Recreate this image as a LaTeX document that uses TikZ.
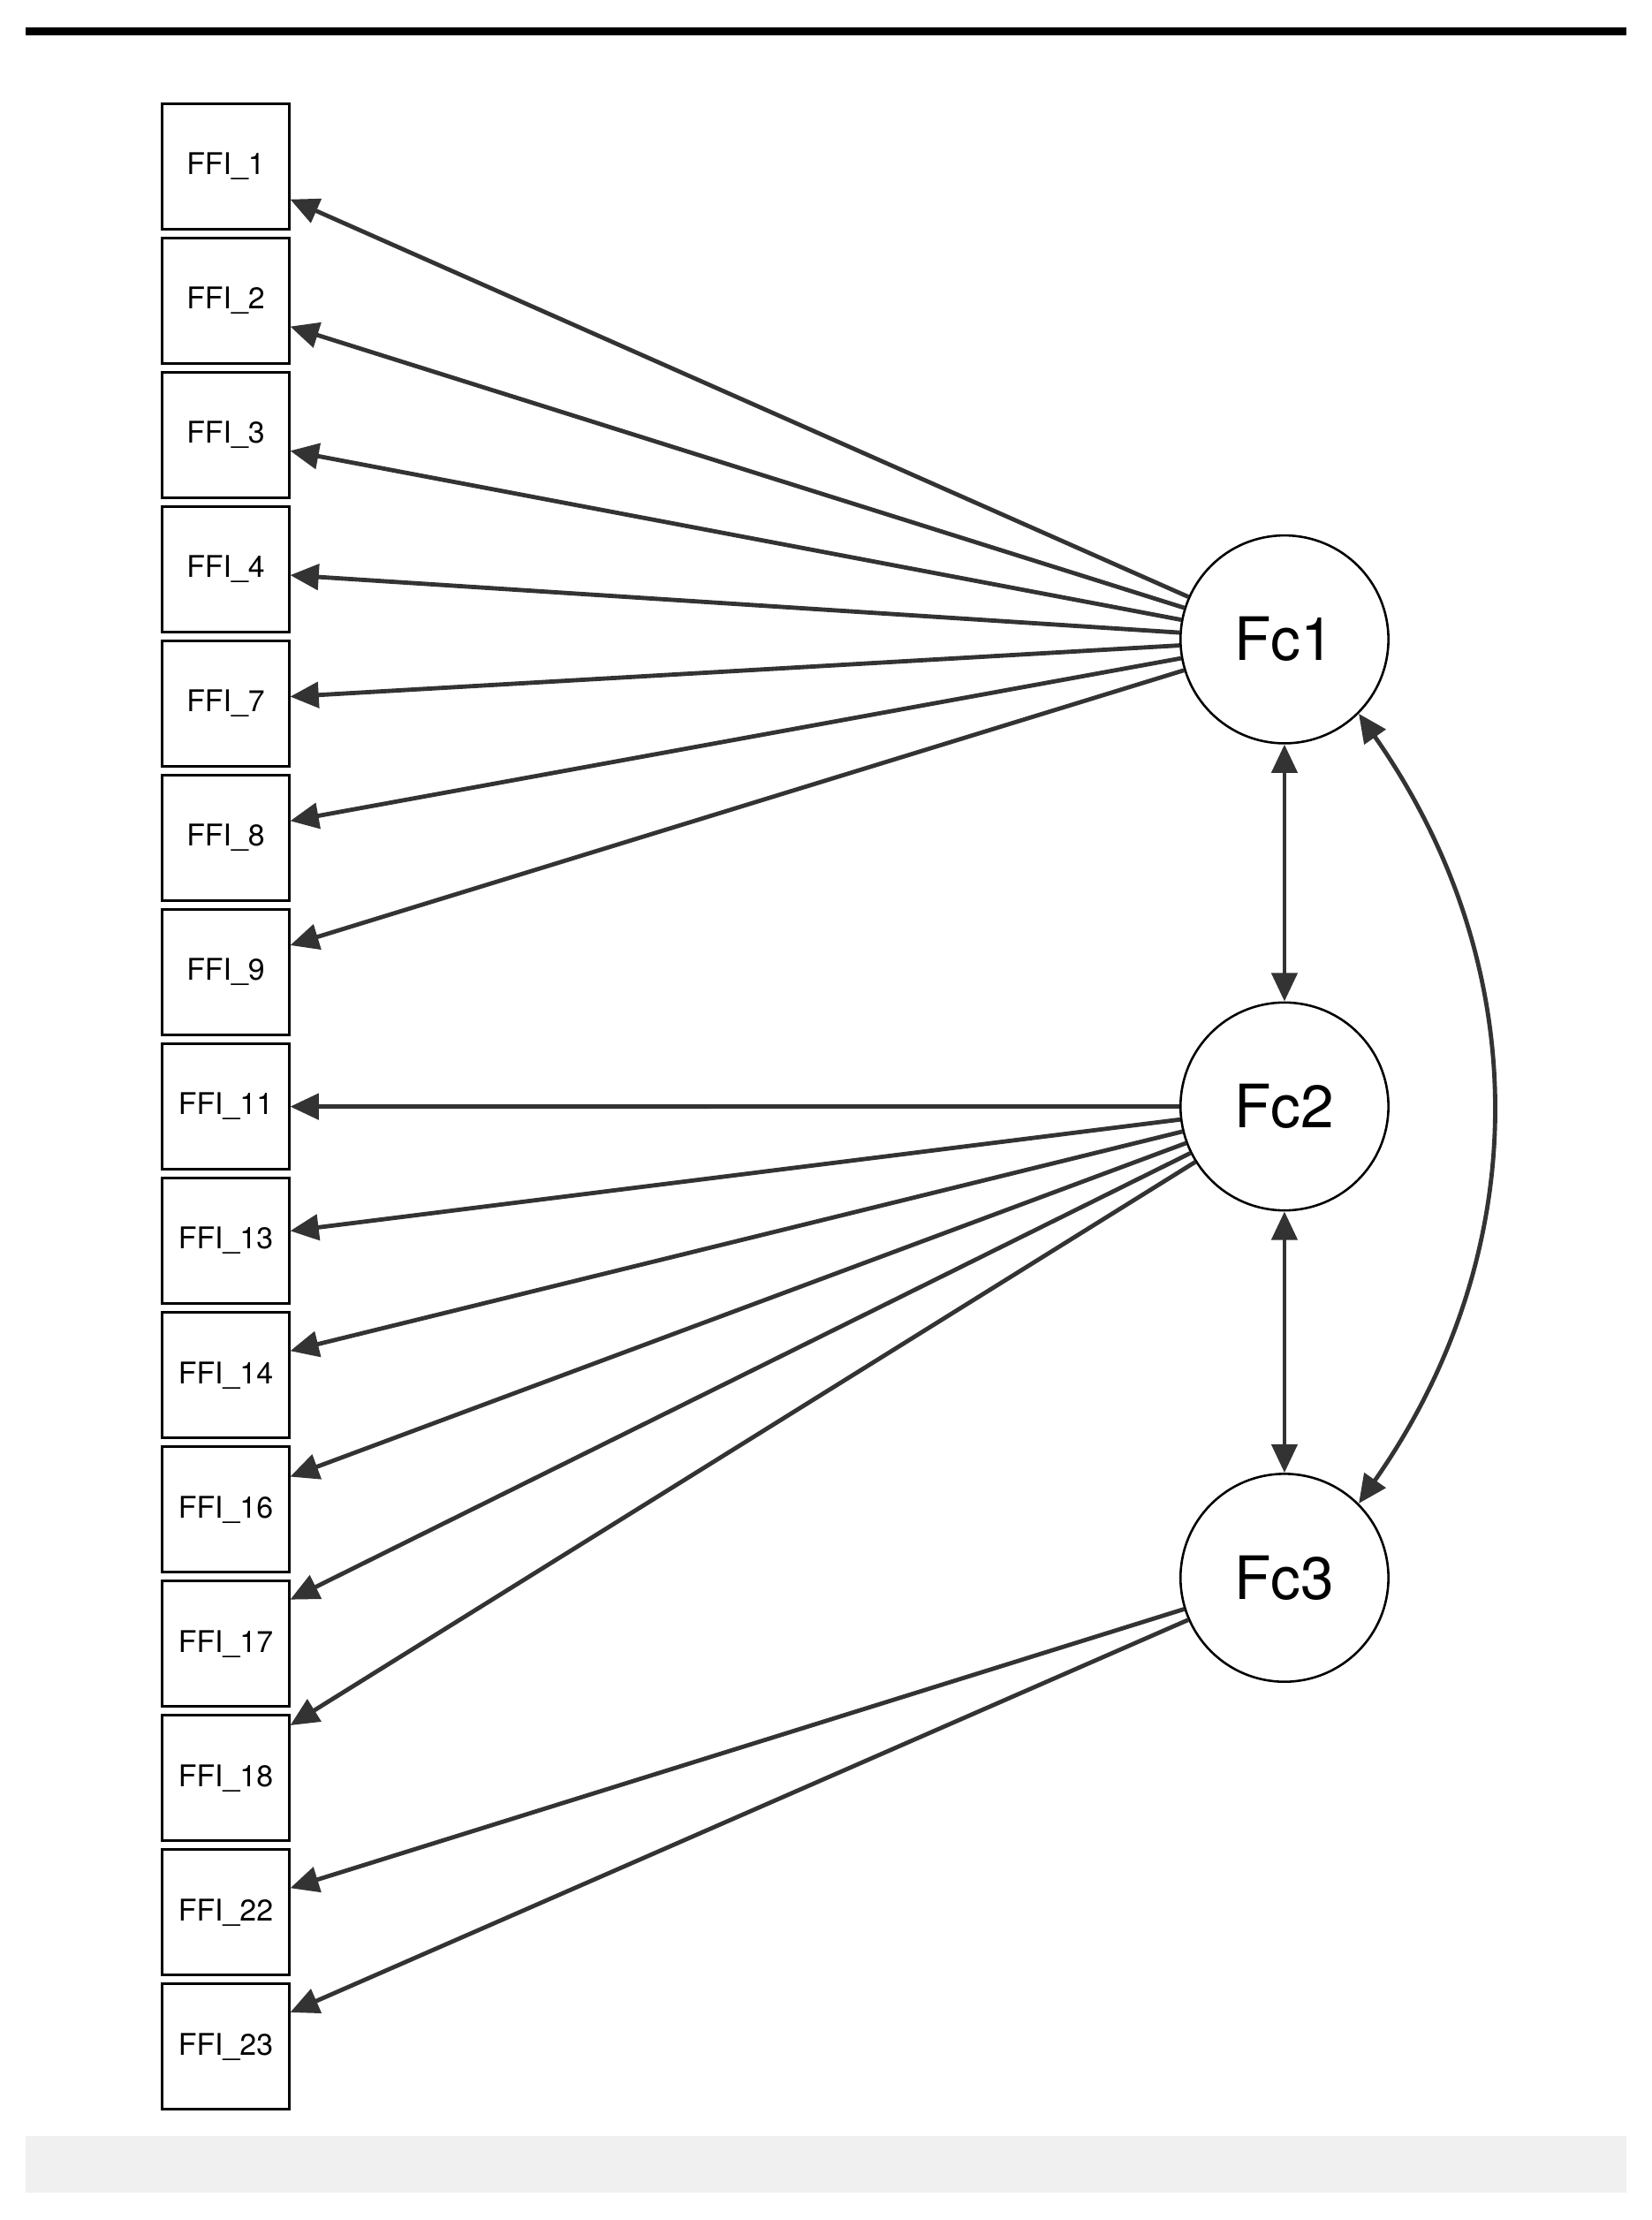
\documentclass[tikz,border=0pt]{standalone}
\usepackage{fontspec}
\setmainfont{TeX Gyre Heros}
\usetikzlibrary{arrows.meta}
\begin{document}
\begin{tikzpicture}[x=0.5pt,y=-0.5pt,
  box/.style={draw,line width=0.8pt,minimum width=44.5pt,minimum height=44pt,inner sep=0pt,font=\fontsize{10.5}{12}\selectfont},
  lat/.style={draw,circle,line width=0.8pt,minimum size=73pt,inner sep=0pt,font=\fontsize{21}{24}\selectfont},
  ar/.style={draw=black!80,line width=1.5pt,-{Triangle[length=10pt,width=9pt]}},
  dar/.style={draw=black!80,line width=1.5pt,{Triangle[length=10pt,width=9pt]}-{Triangle[length=10pt,width=9pt]}}]
\useasboundingbox (0,0) rectangle (1160,1559);
\fill[black!6] (18,1500) rectangle (1142,1540);
\draw[line width=3pt] (18,22) -- (1142,22);
\foreach \n [count=\i from 0] in {1,2,3,4,7,8,9,11,13,14,16,17,18,22,23}{
  \node[box] (b\n) at (158.5,{117+94.3*\i}) {FFI\_\n};
}
\node[lat] (fc1) at (902,449) {Fc1};
\node[lat] (fc2) at (902,777) {Fc2};
\node[lat] (fc3) at (902,1108) {Fc3};
\foreach \n/\d in {1/23,2/18,3/11,4/4,7/-5,8/-12,9/-19}{
  \draw[ar] (fc1) -- ([yshift=-\d*0.5pt]b\n.east);
}
\foreach \n/\d in {11/0,13/-7,14/-17,16/-23,17/-31,18/-37}{
  \draw[ar] (fc2) -- ([yshift=-\d*0.5pt]b\n.east);
}
\foreach \n/\d in {22/-17,23/-24}{
  \draw[ar] (fc3) -- ([yshift=-\d*0.5pt]b\n.east);
}
\draw[dar] (fc1) -- (fc2);
\draw[dar] (fc2) -- (fc3);
\draw[dar] (fc1.-45) to[out=-55,in=55] (fc3.45);
\end{tikzpicture}
\end{document}
